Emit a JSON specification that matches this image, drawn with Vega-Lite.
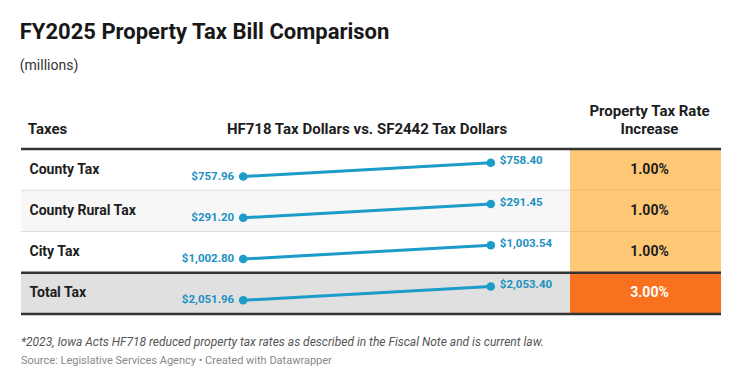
{
  "$schema": "https://vega.github.io/schema/vega-lite/v6.json",
  "background": "#ffffff",
  "padding": {"left": 19, "top": 20, "right": 10, "bottom": 5},
  "config": {"view": {"stroke": null}, "font": "Roboto"},
  "title": {
    "text": "FY2025 Property Tax Bill Comparison",
    "subtitle": "(millions)",
    "anchor": "start",
    "font": "Roboto",
    "fontSize": 22,
    "fontWeight": "bold",
    "color": "#181818",
    "subtitleFont": "Roboto",
    "subtitleFontSize": 14,
    "subtitleColor": "#333333",
    "subtitlePadding": 15,
    "offset": 30
  },
  "datasets": {
    "rows": [
      {"tax": "County Tax", "rate": 0.01},
      {"tax": "County Rural Tax", "rate": 0.01},
      {"tax": "City Tax", "rate": 0.01},
      {"tax": "Total Tax", "rate": 0.03}
    ],
    "bills": [
      {"tax": "County Tax", "bill": "HF718", "dollars": 757.96},
      {"tax": "County Tax", "bill": "SF2442", "dollars": 758.40},
      {"tax": "County Rural Tax", "bill": "HF718", "dollars": 291.20},
      {"tax": "County Rural Tax", "bill": "SF2442", "dollars": 291.45},
      {"tax": "City Tax", "bill": "HF718", "dollars": 1002.80},
      {"tax": "City Tax", "bill": "SF2442", "dollars": 1003.54},
      {"tax": "Total Tax", "bill": "HF718", "dollars": 2051.96},
      {"tax": "Total Tax", "bill": "SF2442", "dollars": 2053.40}
    ]
  },
  "spacing": 20,
  "vconcat": [
    {
      "hconcat": [
        {
          "width": 143,
          "height": 165,
          "title": {"text": "Taxes", "anchor": "start", "dx": 8, "fontSize": 15, "fontWeight": "bold", "color": "#1d1d1d", "offset": 11},
          "data": {"name": "rows"},
          "layer": [
            {
              "mark": {"type": "bar", "height": 41.25},
              "encoding": {
                "x": {"datum": 1, "type": "quantitative", "scale": {"domain": [0, 1]}, "axis": null},
                "y": {"field": "tax", "type": "nominal", "sort": ["County Tax", "County Rural Tax", "City Tax", "Total Tax"],
                  "scale": {"type": "band", "paddingInner": 0, "paddingOuter": 0},
                  "axis": {"title": null, "domain": false, "ticks": false, "labelAlign": "left", "labelPadding": -8, "labelFont": "Roboto", "labelFontSize": 14, "labelFontWeight": "bold", "labelColor": "#1d1d1d", "zindex": 1}},
                "fill": {"field": "tax", "type": "nominal", "scale": {"domain": ["County Tax", "County Rural Tax", "City Tax", "Total Tax"], "range": ["#ffffff", "#f7f7f7", "#ffffff", "#e0e0e0"]}, "legend": null}
              }
            },
            {
              "transform": [{"filter": "datum.tax === 'County Rural Tax' || datum.tax === 'City Tax'"}],
              "mark": {"type": "rule", "color": "#dddddd", "strokeWidth": 1},
              "encoding": {"y": {"field": "tax", "type": "nominal", "sort": ["County Tax", "County Rural Tax", "City Tax", "Total Tax"], "bandPosition": 0}}
            },
            {
              "transform": [{"filter": "datum.tax === 'County Tax' || datum.tax === 'Total Tax'"}],
              "mark": {"type": "rule", "color": "#333333", "strokeWidth": 2.5},
              "encoding": {"y": {"field": "tax", "type": "nominal", "sort": ["County Tax", "County Rural Tax", "City Tax", "Total Tax"], "bandPosition": 0}}
            },
            {
              "transform": [{"filter": "datum.tax === 'Total Tax'"}],
              "mark": {"type": "rule", "color": "#333333", "strokeWidth": 2.5},
              "encoding": {"y": {"field": "tax", "type": "nominal", "sort": ["County Tax", "County Rural Tax", "City Tax", "Total Tax"], "bandPosition": 1}}
            }
          ]
        },
        {
          "width": 406,
          "height": 165,
          "title": {"text": "HF718 Tax Dollars vs. SF2442 Tax Dollars", "anchor": "middle", "fontSize": 15, "fontWeight": "bold", "color": "#1d1d1d", "offset": 11},
          "resolve": {"scale": {"x": "independent"}},
          "layer": [
            {
              "data": {"name": "rows"},
              "layer": [
                {
                  "mark": {"type": "bar", "height": 41.25},
                  "encoding": {
                    "x": {"datum": 1, "type": "quantitative", "scale": {"domain": [0, 1]}, "axis": null},
                    "y": {"field": "tax", "type": "nominal", "sort": ["County Tax", "County Rural Tax", "City Tax", "Total Tax"], "scale": {"type": "band", "paddingInner": 0, "paddingOuter": 0}, "axis": null},
                    "fill": {"field": "tax", "type": "nominal", "scale": {"domain": ["County Tax", "County Rural Tax", "City Tax", "Total Tax"], "range": ["#ffffff", "#f7f7f7", "#ffffff", "#e0e0e0"]}, "legend": null}
                  }
                },
                {
                  "transform": [{"filter": "datum.tax === 'County Rural Tax' || datum.tax === 'City Tax'"}],
                  "mark": {"type": "rule", "color": "#dddddd", "strokeWidth": 1},
                  "encoding": {"y": {"field": "tax", "type": "nominal", "sort": ["County Tax", "County Rural Tax", "City Tax", "Total Tax"], "bandPosition": 0}}
                },
                {
                  "transform": [{"filter": "datum.tax === 'County Tax' || datum.tax === 'Total Tax'"}],
                  "mark": {"type": "rule", "color": "#333333", "strokeWidth": 2.5},
                  "encoding": {"y": {"field": "tax", "type": "nominal", "sort": ["County Tax", "County Rural Tax", "City Tax", "Total Tax"], "bandPosition": 0}}
                },
                {
                  "transform": [{"filter": "datum.tax === 'Total Tax'"}],
                  "mark": {"type": "rule", "color": "#333333", "strokeWidth": 2.5},
                  "encoding": {"y": {"field": "tax", "type": "nominal", "sort": ["County Tax", "County Rural Tax", "City Tax", "Total Tax"], "bandPosition": 1}}
                }
              ]
            },
            {
              "data": {"name": "bills"},
              "layer": [
                {
                  "mark": {"type": "line", "color": "#1b9cc9", "strokeWidth": 3},
                  "encoding": {
                    "x": {"field": "bill", "type": "nominal", "scale": {"type": "point", "domain": ["HF718", "SF2442"], "padding": 0.32}, "axis": null},
                    "y": {"field": "tax", "type": "nominal", "sort": ["County Tax", "County Rural Tax", "City Tax", "Total Tax"]},
                    "yOffset": {"field": "bill", "type": "nominal", "scale": {"type": "point", "domain": ["SF2442", "HF718"], "padding": 1.43}},
                    "detail": {"field": "tax"}
                  }
                },
                {
                  "mark": {"type": "point", "filled": true, "opacity": 1, "color": "#1b9cc9", "size": 75},
                  "encoding": {
                    "x": {"field": "bill", "type": "nominal"},
                    "y": {"field": "tax", "type": "nominal", "sort": ["County Tax", "County Rural Tax", "City Tax", "Total Tax"]},
                    "yOffset": {"field": "bill", "type": "nominal"}
                  }
                },
                {
                  "transform": [{"filter": "datum.bill === 'HF718'"}],
                  "mark": {"type": "text", "align": "right", "baseline": "middle", "dx": -9, "dy": 0, "font": "Roboto", "fontSize": 11.5, "fontWeight": "bold", "color": "#2190c2"},
                  "encoding": {
                    "x": {"field": "bill", "type": "nominal"},
                    "y": {"field": "tax", "type": "nominal", "sort": ["County Tax", "County Rural Tax", "City Tax", "Total Tax"]},
                    "yOffset": {"field": "bill", "type": "nominal"},
                    "text": {"field": "dollars", "type": "quantitative", "format": "$,.2f"}
                  }
                },
                {
                  "transform": [{"filter": "datum.bill === 'SF2442'"}],
                  "mark": {"type": "text", "align": "left", "baseline": "middle", "dx": 9, "dy": -1.5, "font": "Roboto", "fontSize": 11.5, "fontWeight": "bold", "color": "#2190c2"},
                  "encoding": {
                    "x": {"field": "bill", "type": "nominal"},
                    "y": {"field": "tax", "type": "nominal", "sort": ["County Tax", "County Rural Tax", "City Tax", "Total Tax"]},
                    "yOffset": {"field": "bill", "type": "nominal"},
                    "text": {"field": "dollars", "type": "quantitative", "format": "$,.2f"}
                  }
                }
              ]
            }
          ]
        },
        {
          "width": 151,
          "height": 165,
          "title": {"text": ["Property Tax Rate", "Increase"], "anchor": "middle", "dx": 4, "fontSize": 15, "fontWeight": "bold", "color": "#1d1d1d", "offset": 11, "lineHeight": 18},
          "data": {"name": "rows"},
          "layer": [
            {
              "mark": {"type": "bar", "height": 41.25},
              "encoding": {
                "x": {"datum": 1, "type": "quantitative", "scale": {"domain": [0, 1]}, "axis": null},
                "y": {"field": "tax", "type": "nominal", "sort": ["County Tax", "County Rural Tax", "City Tax", "Total Tax"], "scale": {"type": "band", "paddingInner": 0, "paddingOuter": 0}, "axis": null},
                "fill": {"field": "tax", "type": "nominal", "scale": {"domain": ["County Tax", "County Rural Tax", "City Tax", "Total Tax"], "range": ["#fec877", "#fec877", "#fec877", "#f7711e"]}, "legend": null}
              }
            },
            {
              "transform": [{"filter": "datum.tax === 'County Rural Tax' || datum.tax === 'City Tax'"}],
              "mark": {"type": "rule", "color": "#f0bb6c", "strokeWidth": 1},
              "encoding": {"y": {"field": "tax", "type": "nominal", "sort": ["County Tax", "County Rural Tax", "City Tax", "Total Tax"], "bandPosition": 0}}
            },
            {
              "transform": [{"filter": "datum.tax === 'County Tax' || datum.tax === 'Total Tax'"}],
              "mark": {"type": "rule", "color": "#333333", "strokeWidth": 2.5},
              "encoding": {"y": {"field": "tax", "type": "nominal", "sort": ["County Tax", "County Rural Tax", "City Tax", "Total Tax"], "bandPosition": 0}}
            },
            {
              "transform": [{"filter": "datum.tax === 'Total Tax'"}],
              "mark": {"type": "rule", "color": "#333333", "strokeWidth": 2.5},
              "encoding": {"y": {"field": "tax", "type": "nominal", "sort": ["County Tax", "County Rural Tax", "City Tax", "Total Tax"], "bandPosition": 1}}
            },
            {
              "mark": {"type": "text", "baseline": "middle", "align": "center", "dx": 4, "font": "Roboto", "fontSize": 14, "fontWeight": "bold"},
              "encoding": {
                "y": {"field": "tax", "type": "nominal", "sort": ["County Tax", "County Rural Tax", "City Tax", "Total Tax"]},
                "text": {"field": "rate", "type": "quantitative", "format": ".2%"},
                "color": {"field": "tax", "type": "nominal", "scale": {"domain": ["County Tax", "County Rural Tax", "City Tax", "Total Tax"], "range": ["#1d1d1d", "#1d1d1d", "#1d1d1d", "#ffffff"]}, "legend": null}
              }
            }
          ]
        }
      ],
      "spacing": 0,
      "bounds": "flush",
      "resolve": {"scale": {"y": "independent", "fill": "independent", "color": "independent", "x": "independent"}}
    },
    {
      "width": 700,
      "height": 1,
      "data": {"values": []},
      "mark": {"type": "rule"},
      "encoding": {},
      "title": {
        "text": "*2023, Iowa Acts HF718 reduced property tax rates as described in the Fiscal Note and is current law.",
        "subtitle": "Source: Legislative Services Agency • Created with Datawrapper",
        "anchor": "start",
        "font": "Roboto",
        "fontSize": 12,
        "fontStyle": "italic",
        "fontWeight": "normal",
        "color": "#555555",
        "subtitleFont": "Roboto",
        "subtitleFontSize": 11,
        "subtitleColor": "#888888",
        "subtitlePadding": 6,
        "offset": 0
      }
    }
  ]
}
